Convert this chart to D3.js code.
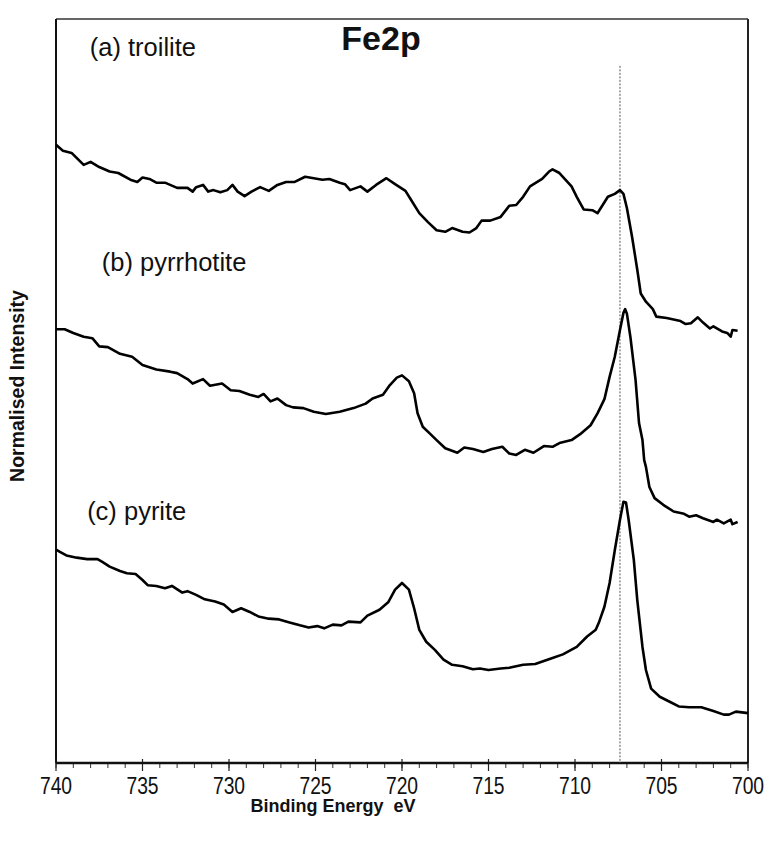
<!DOCTYPE html>
<html>
<head>
<meta charset="utf-8">
<script src="https://cdn.jsdelivr.net/npm/d3@7"></script>
<style>
  html, body { margin: 0; padding: 0; background: #fff; }
  svg { display: block; }
  text { font-family: "Liberation Sans", Arial, Helvetica, sans-serif; fill: #111; }
</style>
</head>
<body>
<svg id="chart" width="767" height="843"></svg>
<script>
// Fe 2p XPS spectra: [binding energy (eV), normalised intensity (arb. units, offset)]
const troilite = [
  [740.0,83.1],[739.6,82.3],[739.1,82.0],[738.4,80.4],[738.0,80.8],[737.5,80.1],[736.9,79.5],
  [736.4,79.3],[735.7,78.4],[735.3,78.1],[735.0,78.7],[734.6,78.5],[734.2,78.0],[733.7,78.0],
  [733.0,77.3],[732.4,77.3],[732.1,76.8],[731.9,77.4],[731.5,77.7],[731.2,76.8],[730.9,77.0],
  [730.5,76.7],[730.1,77.0],[729.8,77.7],[729.5,76.8],[729.1,76.2],[728.7,76.8],[728.2,77.4],
  [727.7,76.9],[727.2,77.7],[726.7,78.1],[726.2,78.1],[725.6,78.8],[725.1,78.6],[724.6,78.4],
  [724.2,78.5],[723.6,78.0],[723.3,77.8],[723.0,77.0],[722.4,77.5],[722.0,76.8],[721.5,77.7],
  [720.9,78.6],[720.4,77.8],[719.8,76.9],[719.4,75.4],[719.0,73.9],[718.5,72.7],[718.0,71.6],
  [717.5,71.4],[717.1,71.9],[716.5,71.4],[716.1,71.3],[715.7,71.9],[715.4,72.9],[714.9,72.9],
  [714.3,73.4],[713.8,74.9],[713.4,75.0],[713.0,76.1],[712.6,77.5],[711.9,78.5],[711.5,79.5],
  [711.3,79.8],[710.9,79.3],[710.2,77.5],[709.9,76.1],[709.5,74.4],[709.0,74.3],[708.7,73.9],
  [708.4,75.0],[708.1,76.1],[707.7,76.5],[707.4,77.0],[707.2,76.5],[707.0,74.6],[706.7,70.7],
  [706.4,66.3],[706.2,63.1],[705.9,62.0],[705.5,61.0],[705.3,60.0],[704.7,59.8],[703.9,59.4],
  [703.6,59.0],[703.3,59.1],[702.9,59.9],[702.6,59.2],[702.2,58.4],[702.0,58.7],[701.5,58.0],
  [701.2,57.8],[701.0,57.3],[700.9,58.2],[700.6,58.1]
];

const pyrrhotite = [
  [740.0,58.3],[739.5,58.3],[739.0,57.8],[738.4,57.3],[737.9,57.1],[737.5,56.0],[737.0,55.9],
  [736.3,55.0],[735.6,54.6],[735.0,53.5],[734.2,52.9],[733.4,52.6],[733.0,52.4],[732.4,51.6],
  [732.1,51.0],[731.5,51.6],[731.1,50.7],[730.4,51.0],[729.9,50.1],[729.4,50.0],[728.8,49.5],
  [728.3,49.2],[728.0,49.6],[727.6,48.6],[727.2,49.0],[726.7,48.1],[726.3,47.8],[725.7,47.7],
  [725.1,47.2],[724.4,46.9],[723.6,47.2],[722.8,47.7],[722.1,48.3],[721.7,49.0],[721.1,49.5],
  [720.7,50.8],[720.3,51.8],[720.0,52.1],[719.6,51.3],[719.3,49.7],[719.1,47.0],[718.8,45.2],
  [718.4,44.3],[718.0,43.4],[717.5,42.3],[716.8,41.7],[716.4,42.4],[715.9,42.2],[715.3,41.8],
  [714.8,42.2],[714.2,42.5],[713.8,41.6],[713.4,41.4],[712.9,42.1],[712.4,41.7],[711.8,42.6],
  [711.3,42.5],[710.9,43.0],[710.2,43.4],[709.7,44.2],[709.1,45.4],[708.7,47.0],[708.3,48.9],
  [708.0,51.9],[707.7,54.6],[707.4,58.2],[707.2,60.5],[707.1,61.0],[707.0,60.4],[706.8,57.3],
  [706.5,51.5],[706.3,45.7],[706.1,43.4],[706.0,40.7],[705.9,39.8],[705.7,37.1],[705.4,35.6],
  [704.9,34.7],[704.3,33.8],[703.7,33.5],[703.4,33.1],[703.0,33.3],[702.6,32.9],[702.0,32.4],
  [701.8,32.7],[701.4,32.2],[701.0,32.7],[700.9,32.1],[700.6,32.4]
];

const pyrite = [
  [740.0,28.7],[739.8,28.4],[739.4,27.9],[738.8,27.6],[738.2,27.4],[737.6,27.4],[737.3,27.0],
  [736.9,26.4],[736.3,25.8],[735.9,25.5],[735.4,25.4],[735.0,24.6],[734.7,23.9],[734.2,23.8],
  [733.7,23.5],[733.3,23.8],[732.7,22.9],[732.4,23.1],[731.9,22.6],[731.4,22.0],[730.8,21.7],
  [730.3,21.3],[729.8,20.3],[729.3,20.8],[728.8,20.3],[728.3,19.7],[727.7,19.4],[727.1,19.3],
  [726.5,18.9],[725.9,18.5],[725.4,18.2],[724.9,18.4],[724.5,18.1],[724.0,18.6],[723.5,18.5],
  [723.1,19.0],[722.4,18.9],[722.0,19.8],[721.3,20.6],[720.8,21.6],[720.4,23.3],[720.0,24.2],
  [719.6,23.3],[719.3,20.8],[719.0,17.9],[718.6,16.3],[718.1,15.2],[717.6,13.9],[717.1,13.2],
  [716.5,13.0],[715.9,12.6],[715.5,12.7],[715.0,12.5],[714.3,12.7],[713.8,12.8],[713.0,13.2],
  [712.3,13.3],[711.8,13.7],[711.3,14.1],[710.7,14.6],[709.9,15.6],[709.3,17.0],[708.8,17.9],
  [708.6,19.0],[708.3,21.0],[708.0,24.2],[707.7,28.6],[707.4,32.7],[707.2,35.1],[707.05,35.0],
  [706.9,32.7],[706.6,27.3],[706.4,21.9],[706.1,15.6],[705.9,12.5],[705.6,10.0],[705.1,8.9],
  [704.5,8.2],[704.0,7.6],[703.4,7.5],[702.7,7.5],[702.0,7.0],[701.4,6.5],[701.1,6.5],
  [700.7,6.9],[700.0,6.7]
];

const series = [troilite, pyrrhotite, pyrite];
const seriesLabels = ["(a) troilite", "(b) pyrrhotite", "(c) pyrite"];
// label anchor: [binding energy, intensity] of the text baseline start
const labelAnchors = [[738.05, 95.0], [737.35, 66.1], [738.2, 32.6]];

const majorTicks = [740, 735, 730, 725, 720, 715, 710, 705, 700];
const minorTicks = d3.range(700, 741, 1);
const referenceLine = { energy: 707.4, top: 93.7 };
const titleText = "Fe2p";
const xTitle = "Binding Energy  eV";
const yTitle = "Normalised Intensity";

// ---- layout ----
const svg = d3.select("#chart");
const m = { left: 56, right: 748, top: 19, bottom: 763 };

const x = d3.scaleLinear().domain([740, 700]).range([m.left, m.right]);
const y = d3.scaleLinear().domain([0, 100]).range([m.bottom, m.top]);

// frame
svg.append("line").attr("x1", m.left).attr("x2", m.right).attr("y1", m.top).attr("y2", m.top)
  .attr("stroke", "#333").attr("stroke-width", 1.5);
svg.append("line").attr("x1", m.right).attr("x2", m.right).attr("y1", m.top).attr("y2", m.bottom)
  .attr("stroke", "#222").attr("stroke-width", 2);
svg.append("line").attr("x1", m.left).attr("x2", m.left).attr("y1", m.top).attr("y2", m.bottom)
  .attr("stroke", "#111").attr("stroke-width", 2);

// x axis: minor ticks every 1 eV, labelled major ticks every 5 eV
const gx = svg.append("g").attr("transform", `translate(0,${m.bottom})`);
gx.selectAll("line.minor").data(minorTicks).join("line")
  .attr("class", "minor")
  .attr("x1", d => x(d)).attr("x2", d => x(d))
  .attr("y1", 0).attr("y2", 5)
  .attr("stroke", "#333").attr("stroke-width", 1);
gx.selectAll("line.major").data(majorTicks).join("line")
  .attr("class", "major")
  .attr("x1", d => x(d)).attr("x2", d => x(d))
  .attr("y1", -4).attr("y2", 8)
  .attr("stroke", "#222").attr("stroke-width", 1.2);
gx.append("line").attr("x1", m.left).attr("x2", m.right).attr("y1", 0).attr("y2", 0)
  .attr("stroke", "#111").attr("stroke-width", 2.5);
gx.selectAll("text.tick").data(majorTicks).join("text")
  .attr("class", "tick")
  .attr("transform", d => `translate(${x(d)},31) scale(0.84,1)`)
  .attr("text-anchor", "middle")
  .attr("font-size", 23)
  .text(d => d);

// dotted reference line at the Fe 2p3/2 position
svg.append("line")
  .attr("x1", x(referenceLine.energy)).attr("x2", x(referenceLine.energy))
  .attr("y1", y(referenceLine.top)).attr("y2", m.bottom)
  .attr("stroke", "#555").attr("stroke-width", 1)
  .attr("stroke-dasharray", "2,1.5");

// spectra
const line = d3.line().x(d => x(d[0])).y(d => y(d[1]));
svg.selectAll("path.spec").data(series).join("path")
  .attr("class", "spec")
  .attr("d", line)
  .attr("fill", "none")
  .attr("stroke", "#000")
  .attr("stroke-width", 2.6)
  .attr("stroke-linejoin", "round");

// series labels
svg.selectAll("text.lab").data(seriesLabels).join("text")
  .attr("class", "lab")
  .attr("x", (d, i) => x(labelAnchors[i][0]))
  .attr("y", (d, i) => y(labelAnchors[i][1]))
  .attr("font-size", 25.5)
  .text(d => d);

// title and axis titles
svg.append("text")
  .attr("x", 381).attr("y", 50)
  .attr("text-anchor", "middle")
  .attr("font-size", 34).attr("font-weight", "bold")
  .text(titleText);

svg.append("text")
  .attr("x", 333).attr("y", 812)
  .attr("text-anchor", "middle")
  .attr("font-size", 18).attr("font-weight", "bold")
  .style("white-space", "pre")
  .text(xTitle);

svg.append("text")
  .attr("transform", `translate(24,386) rotate(-90)`)
  .attr("text-anchor", "middle")
  .attr("font-size", 19.5).attr("font-weight", "bold")
  .text(yTitle);
</script>
</body>
</html>
